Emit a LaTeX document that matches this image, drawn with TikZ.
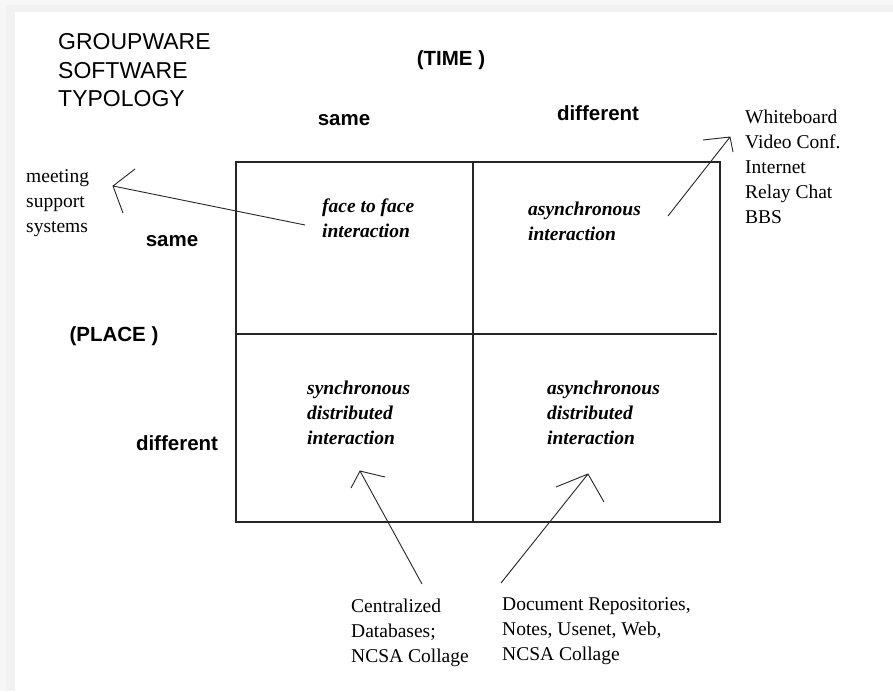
\documentclass[tikz,border=0pt]{standalone}
\usepackage{fontspec}
\setmainfont{Liberation Serif}
\newfontfamily\arialf{Liberation Sans}
\begin{document}
\begin{tikzpicture}[x=1pt,y=-1pt,
  title/.style={font=\arialf\fontsize{23}{28.5}\selectfont, align=left, anchor=west, inner sep=0pt},
  axis/.style={font=\arialf\bfseries\fontsize{20.5}{24}\selectfont, inner sep=0pt},
  cell/.style={font=\bfseries\itshape\fontsize{19.5}{25}\selectfont, align=left, anchor=west, inner sep=0pt},
  lab/.style={font=\fontsize{19.5}{25}\selectfont, align=left, anchor=west, inner sep=0pt},
  gridline/.style={line width=1.4pt, black!85},
  handline/.style={line width=0.9pt, black!85}]
\useasboundingbox (0,0) rectangle (893,691);
\fill[white] (0,0) rectangle (893,691);
\fill[black!5] (0,0) rectangle (893,12);
\fill[black!5] (0,0) rectangle (15,691);
\fill[black!3] (0,0) rectangle (6,691);
\fill[black!3] (0,0) rectangle (893,5);
% grid
\draw[gridline] (236,162) rectangle (720,522);
\draw[gridline] (473,162) -- (473,522);
\draw[gridline] (236,334) -- (717,334);
% title and axis labels
\node[title] (title) at (58,70.5) {GROUPWARE\\SOFTWARE\\TYPOLOGY};
\node[axis] (time) at (451,60) {(TIME )};
\node[axis] (tsame) at (344,120) {same};
\node[axis] (tdiff) at (598,113) {different};
\node[axis] (psame) at (172,241) {same};
\node[axis] (place) at (114,336) {(PLACE )};
\node[axis] (pdiff) at (177,443) {different};
% cells
\node[cell] (ftf) at (322,218) {face to face\\interaction};
\node[cell] (ai) at (528,221.5) {asynchronous\\interaction};
\node[cell] (sdi) at (307,413) {synchronous\\distributed\\interaction};
\node[cell] (adi) at (547,413) {asynchronous\\distributed\\interaction};
% labels
\node[lab] (meet) at (26,203.5) {meeting\\support\\systems};
\node[lab] (wb) at (745,167) {Whiteboard\\Video Conf.\\Internet\\Relay Chat\\BBS};
\node[lab] (cdb) at (351,633) {Centralized\\Databases;\\NCSA Collage};
\node[lab] (docs) at (502,631) {Document Repositories,\\Notes, Usenet, Web,\\NCSA Collage};
% arrow coordinates
\coordinate (a1s) at (305,225);
\coordinate (a1t) at (113,186);
\coordinate (a1b) at (135,169);
\coordinate (a1c) at (123,213);
\coordinate (a2s) at (668,216);
\coordinate (a2t) at (730,137);
\coordinate (a2b) at (703,140);
\coordinate (a2c) at (733,152);
\coordinate (a3s) at (422,584);
\coordinate (a3t) at (360,471);
\coordinate (a3b) at (351,488);
\coordinate (a3c) at (385,477);
\coordinate (a4s) at (501,583);
\coordinate (a4t) at (588,474);
\coordinate (a4b) at (556,487);
\coordinate (a4c) at (604,502);
% arrows
\draw[handline] (a1s) -- (a1t) (a1b) -- (a1t) -- (a1c);
\draw[handline] (a2s) -- (a2t) (a2b) -- (a2t) -- (a2c);
\draw[handline] (a3s) -- (a3t) (a3b) -- (a3t) -- (a3c);
\draw[handline] (a4s) -- (a4t) (a4b) -- (a4t) -- (a4c);
\end{tikzpicture}
\end{document}
